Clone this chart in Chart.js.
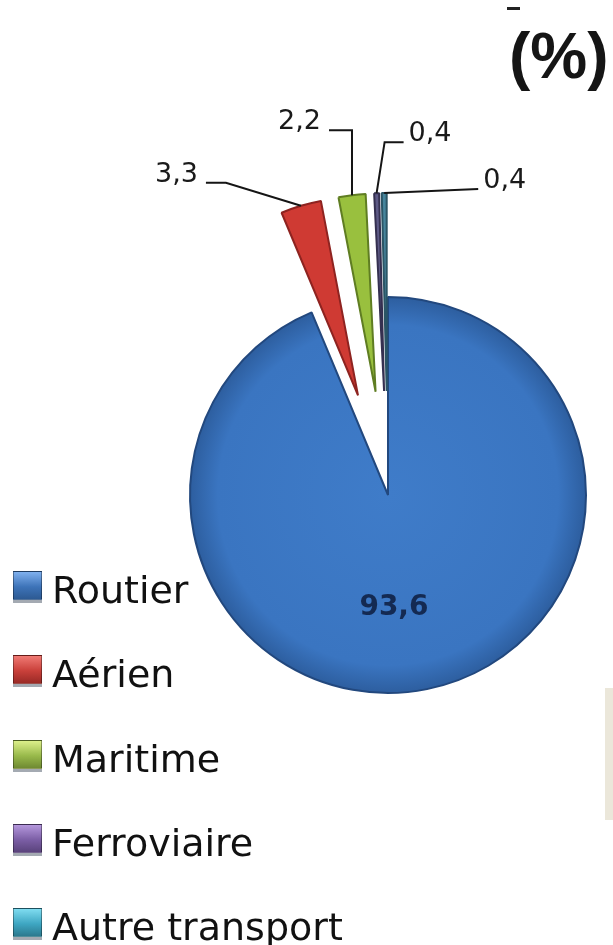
<!DOCTYPE html>
<html lang="fr">
<head>
<meta charset="utf-8">
<script src="https://cdn.jsdelivr.net/npm/chart.js@4.4.1/dist/chart.umd.min.js"></script>
<style>
  html, body { margin: 0; padding: 0; background: #fff; }
  #wrap { position: relative; width: 613px; height: 945px; overflow: hidden; background: #fff; }
  #chart-box { position: absolute; left: 0; top: 0; width: 613px; height: 945px; }
  .title { position: absolute; left: 509px; top: 24px; font: bold 64px "Liberation Sans", Arial, sans-serif; line-height: 64px; color: #151515; }
  .dash { position: absolute; left: 507px; top: 7px; width: 13px; height: 3px; background: #222; }
  .edge { position: absolute; left: 605px; top: 688px; width: 8px; height: 132px; background: #ebe7da; }
  .legend-item { position: absolute; left: 13px; height: 38px; }
  .legend-box { position: absolute; left: 0; top: 0; width: 27px; height: 27px; border: 1px solid rgba(0,0,0,0.35); box-shadow: 0 3px 0 rgba(90,100,115,0.55); }
  .legend-text { position: absolute; left: 39px; top: 0; font: 38px "DejaVu Sans", Verdana, sans-serif; line-height: 38px; color: #111; white-space: nowrap; }
</style>
</head>
<body>
<div id="wrap">
  <div id="chart-box"><canvas id="transport-pie"></canvas></div>
  <div class="dash"></div>
  <div class="title">(%)</div>
  <div class="edge"></div>
  <div id="legend"></div>
</div>
<script>
// Parts modales (%)
const categories = ['Routier', 'Aérien', 'Maritime', 'Ferroviaire', 'Autre transport'];
const shares = [93.6, 3.3, 2.2, 0.4, 0.4];
const shareLabels = ['93,6', '3,3', '2,2', '0,4', '0,4'];

const sliceColors = ['#3b76c2', '#cf3a33', '#99c03e', '#5e5a86', '#46859c'];
const sliceBorders = ['#22487e', '#8e2320', '#5f7d22', '#353050', '#2b5566'];
const boxColors = [
    ['#7fb0ee', '#3d73b8', '#2d5a93'],
    ['#f07a74', '#c9403a', '#9a2a26'],
    ['#dcef8a', '#98b94a', '#6f8a32'],
    ['#b497dc', '#7b5ea5', '#5a437c'],
    ['#7fdcf0', '#3ea6c2', '#2c7a8f']
];

// how far each slice is pulled out of the pie (px)
const explode = [0, 104, 104, 104, 104];

// leader lines for the exploded slices, relative to the slice's outer mid point
const leaders = [
    null,
    { elbow: [-75, -23], end: [-95, -23], align: 'right' },
    { elbow: [0, -65], end: [-23, -65], align: 'right' },
    { elbow: [8, -51], end: [27, -51], align: 'left' },
    { elbow: null, end: [94, -4], align: 'left' }
];

// --- Legend ---
const legendEl = document.getElementById('legend');
categories.forEach((name, i) => {
    const c = boxColors[i];
    const item = document.createElement('div');
    item.className = 'legend-item';
    item.style.top = (571 + i * 84.3) + 'px';
    item.innerHTML = `
        <div class="legend-box" style="background: linear-gradient(to bottom, ${c[0]} 0%, ${c[1]} 55%, ${c[2]} 100%)"></div>
        <div class="legend-text">${name}</div>
    `;
    legendEl.appendChild(item);
});

// --- Explode slices along their bisector, keeping their radius ---
const explodeSlices = {
    id: 'explodeSlices',
    afterDatasetsUpdate(chart) {
        chart.getDatasetMeta(0).data.forEach((arc, i) => {
            const d = explode[i] || 0;
            if (!d) return;
            const mid = (arc.startAngle + arc.endAngle) / 2;
            arc.x += Math.cos(mid) * d;
            arc.y += Math.sin(mid) * d;
        });
    }
};

// --- Value labels plugin ---
const sliceLabels = {
    id: 'sliceLabels',
    afterDatasetsDraw(chart) {
        const ctx = chart.ctx;
        const arcs = chart.getDatasetMeta(0).data;
        ctx.save();
        arcs.forEach((arc, i) => {
            const { x, y, startAngle, endAngle, outerRadius } = arc.getProps(['x', 'y', 'startAngle', 'endAngle', 'outerRadius'], true);
            const mid = (startAngle + endAngle) / 2;

            if (i === 0) {
                ctx.font = 'bold 28px "DejaVu Sans", Verdana, sans-serif';
                ctx.fillStyle = '#142a52';
                ctx.textAlign = 'center';
                ctx.textBaseline = 'middle';
                ctx.fillText(shareLabels[i], x + outerRadius * 0.03, y + outerRadius * 0.57);
                return;
            }

            const ax = x + Math.cos(mid) * outerRadius;
            const ay = y + Math.sin(mid) * outerRadius;
            const l = leaders[i];
            ctx.strokeStyle = '#151515';
            ctx.lineWidth = 2;
            ctx.beginPath();
            ctx.moveTo(ax, ay);
            if (l.elbow) ctx.lineTo(ax + l.elbow[0], ay + l.elbow[1]);
            const ex = ax + l.end[0], ey = ay + l.end[1];
            ctx.lineTo(ex, ey);
            ctx.stroke();

            ctx.font = '27px "DejaVu Sans", Verdana, sans-serif';
            ctx.fillStyle = '#1a1a1a';
            ctx.textAlign = l.align;
            ctx.textBaseline = 'alphabetic';
            ctx.fillText(shareLabels[i], l.align === 'right' ? ex - 8 : ex + 5, ey - 1);
        });
        ctx.restore();
    }
};

// blue slice gets a slight darkening towards its rim
const sliceFill = (context) => {
    const base = sliceColors[context.dataIndex];
    const area = context.chart.chartArea;
    if (context.dataIndex !== 0 || !area) return base;
    const cx = (area.left + area.right) / 2;
    const cy = (area.top + area.bottom) / 2;
    const g = context.chart.ctx.createRadialGradient(cx, cy, 0, cx, cy, 198);
    g.addColorStop(0, '#3f7cc9');
    g.addColorStop(0.86, '#3a75c1');
    g.addColorStop(1, '#2d5e9f');
    return g;
};

// --- Chart ---
const ctx = document.getElementById('transport-pie').getContext('2d');
new Chart(ctx, {
    type: 'pie',
    data: {
        labels: categories,
        datasets: [{
            data: shares,
            backgroundColor: sliceFill,
            borderColor: sliceBorders,
            borderWidth: 2,
            clip: false
        }]
    },
    options: {
        responsive: true,
        maintainAspectRatio: false,
        animation: false,
        radius: 198,
        layout: { padding: { left: 163, top: 45, right: 0, bottom: 0 } },
        plugins: {
            legend: { display: false },
            tooltip: { enabled: false },
            title: { display: false }
        }
    },
    plugins: [explodeSlices, sliceLabels]
});
</script>
</body>
</html>
